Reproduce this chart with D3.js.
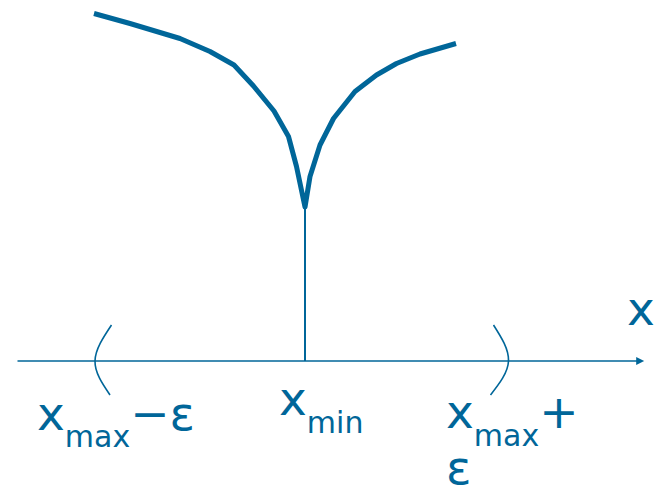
<!DOCTYPE html>
<html>
<head>
<meta charset="utf-8">
<script src="https://cdn.jsdelivr.net/npm/d3@7"></script>
<style>
  body { margin: 0; background: #fff; }
  text { font-family: "DejaVu Sans", Verdana, sans-serif; fill: #006699; }
</style>
</head>
<body>
<div id="chart"></div>
<script>
var w = 656;
var h = 490;
var blue = "#006699";

// curve f(x) around x_min (x in units, x_min = 0)
var leftX  = [-4.22, -3.5, -2.5, -1.9, -1.42, -1.03, -0.62, -0.33, -0.17, 0];
var leftY  = [6.95, 6.75, 6.45, 6.19, 5.92, 5.5, 5.0, 4.49, 3.89, 3.08];
var rightX = [0, 0.1, 0.3, 0.57, 1.0, 1.43, 1.83, 2.3, 3.02];
var rightY = [3.08, 3.69, 4.32, 4.85, 5.39, 5.72, 5.95, 6.14, 6.35];

// neighbourhood brackets
var bracketL = [[-3.87, 0.72], [-4.2, 0], [-3.9, -0.68]];
var bracketR = [[3.77, 0.72], [4.07, 0], [3.71, -0.68]];

var xMin = 0;
var axisRange = [-5.75, 6.9];

var x = d3.scaleLinear().domain([-6, 7]).range([5, 655]);
var y = d3.scaleLinear().domain([0, 7]).range([361, 11]);

var svg = d3.select("#chart")
    .append("svg")
    .attr("width", w)
    .attr("height", h);

svg.append("defs").append("marker")
    .attr("id", "arrow")
    .attr("viewBox", "0 0 10 10")
    .attr("refX", 1)
    .attr("refY", 5)
    .attr("markerWidth", 13)
    .attr("markerHeight", 8)
    .attr("markerUnits", "userSpaceOnUse")
    .attr("orient", "auto")
    .append("path")
    .attr("d", "M0,0 L10,5 L0,10 z")
    .attr("fill", blue);

// x axis
svg.append("line")
    .attr("x1", x(axisRange[0]))
    .attr("x2", x(axisRange[1]) - 13)
    .attr("y1", y(0))
    .attr("y2", y(0))
    .attr("stroke", blue)
    .attr("stroke-width", 1.6)
    .attr("marker-end", "url(#arrow)");

// drop line at x_min
svg.append("line")
    .attr("x1", x(xMin))
    .attr("x2", x(xMin))
    .attr("y1", y(leftY[leftY.length - 1]))
    .attr("y2", y(0))
    .attr("stroke", blue)
    .attr("stroke-width", 2);

var line = d3.line()
    .x(function(d) { return x(d[0]); })
    .y(function(d) { return y(d[1]); });

var curve = leftX.map(function(d, i) { return [d, leftY[i]]; })
    .concat(rightX.slice(1).map(function(d, i) { return [d, rightY[i + 1]]; }));

svg.append("path")
    .datum(curve)
    .attr("d", line)
    .attr("fill", "none")
    .attr("stroke", blue)
    .attr("stroke-width", 5)
    .attr("stroke-linejoin", "round");

var bracket = d3.line()
    .x(function(d) { return x(d[0]); })
    .y(function(d) { return y(d[1]); })
    .curve(d3.curveNatural);

svg.selectAll(".bracket")
    .data([bracketL, bracketR])
    .enter()
    .append("path")
    .attr("class", "bracket")
    .attr("d", bracket)
    .attr("fill", "none")
    .attr("stroke", blue)
    .attr("stroke-width", 1.6);

// labels
var fs = 47, sub = 30;

function label(px, py, after) {
    var t = svg.append("text")
        .attr("x", px)
        .attr("y", py)
        .style("font-size", fs + "px");
    t.append("tspan").text("x");
    return t;
}

var l1 = label(x(-5.36), 430);
l1.append("tspan").attr("dy", 17).style("font-size", sub + "px").text("max");
l1.append("tspan").attr("dy", -17).text("\u2212\u03b5");

var l2 = label(x(-0.52), 415);
l2.append("tspan").attr("dy", 18).style("font-size", sub + "px").text("min");

var l3 = label(x(2.82), 428);
l3.append("tspan").attr("dy", 18).style("font-size", sub + "px").text("max");
l3.append("tspan").attr("dy", -18).text("+");

svg.append("text")
    .attr("x", x(2.82))
    .attr("y", 484)
    .style("font-size", fs + "px")
    .text("\u03b5");

svg.append("text")
    .attr("x", x(6.44))
    .attr("y", 325)
    .style("font-size", fs + "px")
    .text("x");
</script>
</body>
</html>
